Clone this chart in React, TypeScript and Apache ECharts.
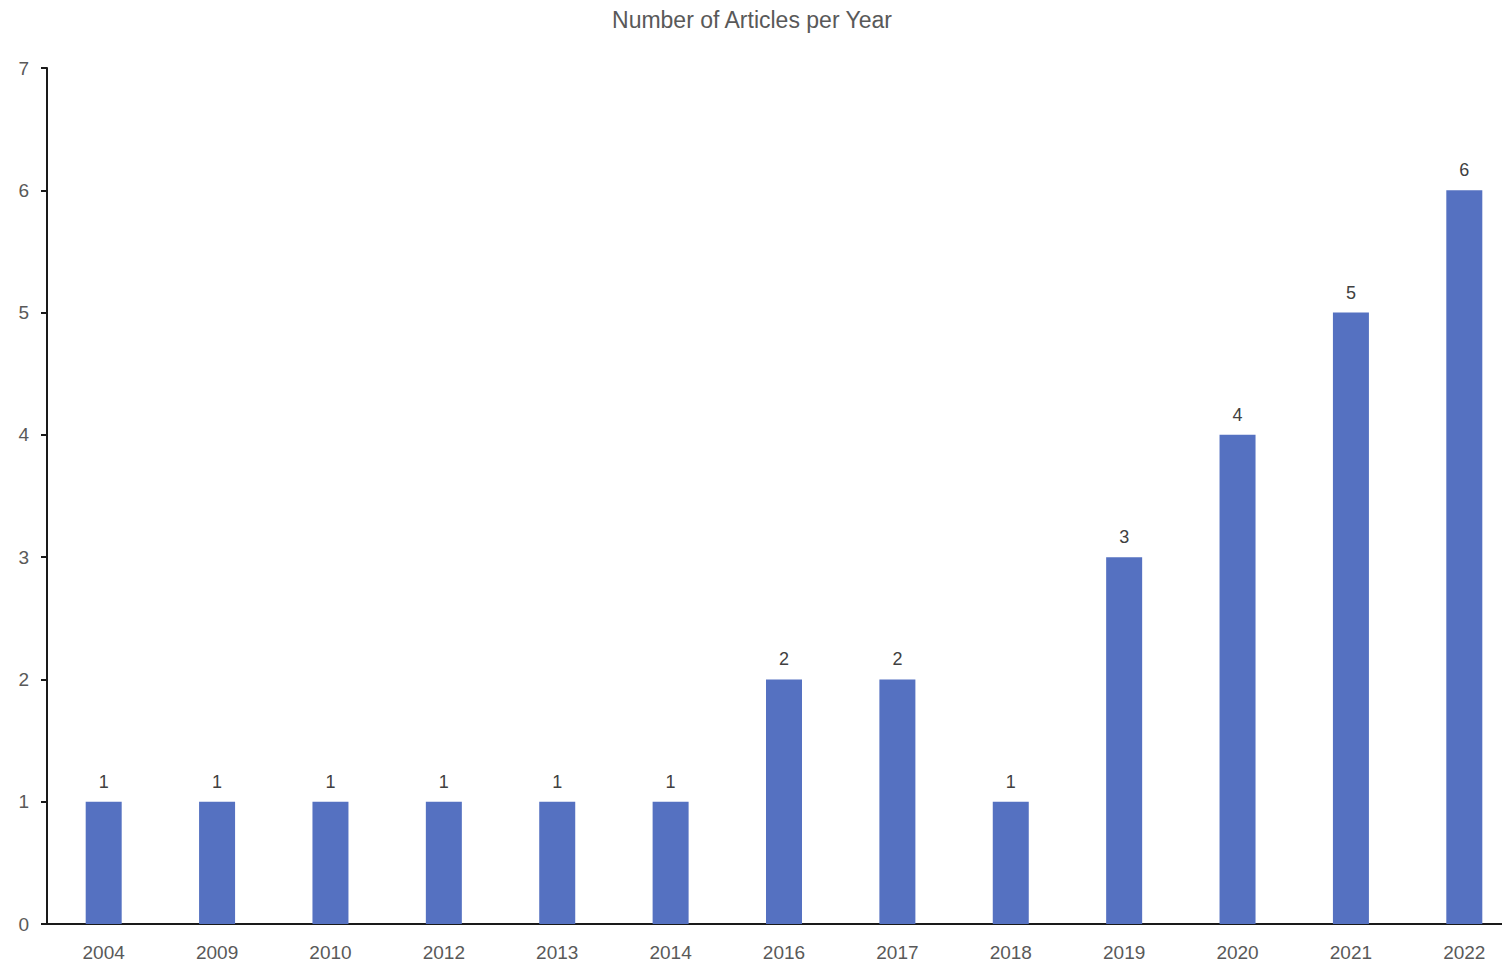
import React, { useEffect, useRef } from "react";
import * as echarts from "echarts";

const years = ["2004", "2009", "2010", "2012", "2013", "2014", "2016", "2017", "2018", "2019", "2020", "2021", "2022"];
const articles = [1, 1, 1, 1, 1, 1, 2, 2, 1, 3, 4, 5, 6];
const titleText = "Number of Articles per Year";

export default function App() {
  const ref = useRef<HTMLDivElement>(null);
  useEffect(() => {
    if (!ref.current) return;
    const chart = echarts.init(ref.current, null, { renderer: "svg" });
    chart.setOption({
      animation: false,
      backgroundColor: "#ffffff",
      title: {
        text: titleText,
        left: 747,
        textAlign: "center",
        top: 3,
        textStyle: { fontFamily: "Liberation Sans", fontSize: 23, fontWeight: "normal", color: "#595959" },
      },
      grid: { left: 47, top: 68, bottom: 42, right: 0, containLabel: false },
      xAxis: {
        type: "category",
        data: years,
        axisLine: { show: true, lineStyle: { color: "#1a1a1a", width: 2 } },
        axisTick: { show: false },
        axisLabel: { margin: 19, fontFamily: "Liberation Sans", fontSize: 19, color: "#595959" },
        splitLine: { show: false },
      },
      yAxis: {
        type: "value",
        min: 0,
        max: 7,
        interval: 1,
        axisLine: { show: true, lineStyle: { color: "#1a1a1a", width: 2 } },
        axisTick: { show: true, length: 6, lineStyle: { color: "#1a1a1a", width: 2 } },
        axisLabel: { margin: 18, fontFamily: "Liberation Sans", fontSize: 19, color: "#595959" },
        splitLine: { show: false },
      },
      series: [
        {
          type: "bar",
          data: articles,
          barWidth: 36,
          itemStyle: { color: "#5571c1" },
          label: {
            show: true,
            position: "top",
            distance: 11,
            fontFamily: "Liberation Sans",
            fontSize: 18,
            color: "#404040",
          },
        },
      ],
    });
    return () => chart.dispose();
  }, []);
  return (
    <div style={{ position: "absolute", left: 0, top: 0, width: 1502, height: 966, overflow: "hidden" }}>
      <div ref={ref} style={{ width: 1521, height: 966 }} />
    </div>
  );
}
